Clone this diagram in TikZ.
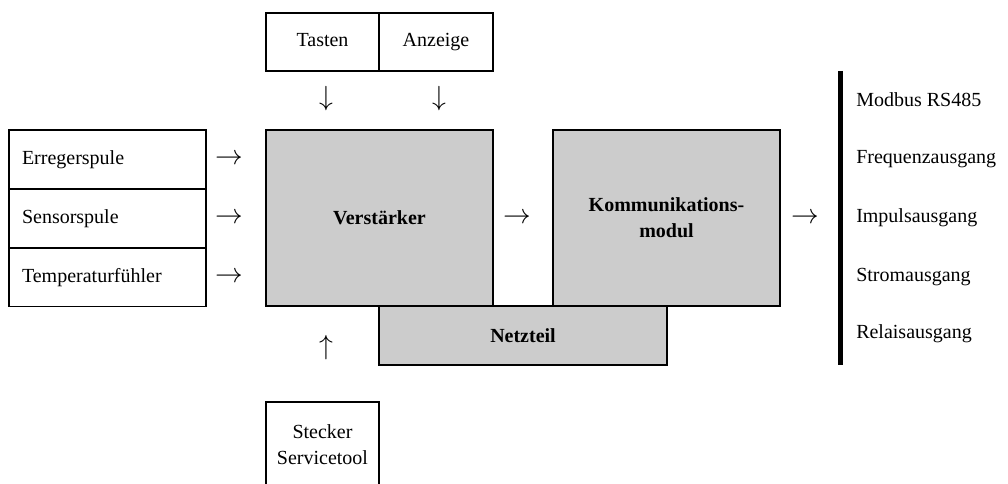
\documentclass[tikz,border=0pt]{standalone}
\usepackage{fontspec}
\setmainfont{Liberation Serif}
\begin{document}
\begin{tikzpicture}[x=0.75pt,y=0.75pt,yscale=-1,xscale=1,
        every node/.style={font=\fontsize{15}{19.5}\selectfont},
        plainbox/.style={draw, line width=0.9pt, inner sep=0pt, align=center},
        inbox/.style={draw, line width=0.9pt, inner sep=0pt, inner xsep=9.75pt, text width=128.25pt, minimum width=147.75pt, minimum height=44.25pt, align=left},
        greybox/.style={draw, line width=0.9pt, fill={rgb, 255:red, 204; green, 204; blue, 204 }, inner sep=0pt, align=center, font=\fontsize{15}{19.5}\selectfont\bfseries},
        sign/.style={inner sep=0.75pt, font=\fontsize{20}{24}\selectfont}]
        \useasboundingbox (0,0) rectangle (1008,484);
        \clip (0,0) rectangle (1008,484);

        %Shape: Rectangle
        \node [plainbox, minimum width=84.75pt, minimum height=43.5pt, text height=10.5pt, text depth=3.5pt] (tasten) at (322.5,42) {Tasten};
        %Shape: Rectangle
        \node [plainbox, minimum width=85.5pt, minimum height=43.5pt, text height=10.5pt, text depth=3.5pt] (anzeige) at (436,42) {Anzeige};

        %Shape: Rectangle
        \node [inbox] (erreger) at (107.5,159.5) {Erregerspule};
        %Shape: Rectangle
        \node [inbox] (sensor) at (107.5,218.5) {Sensorspule};
        %Shape: Rectangle
        \node [inbox, minimum height=43.5pt] (temp) at (107.5,277.5) {Temperaturfühler};

        %Shape: Rectangle
        \node [greybox, minimum width=170.25pt, minimum height=132pt] (verst) at (379.5,218) {Verstärker};
        %Shape: Rectangle
        \node [greybox, minimum width=170.25pt, minimum height=132pt] (komm) at (666.5,218) {Kommunikations-\\modul};
        %Shape: Rectangle
        \node [greybox, minimum width=216pt, minimum height=44.25pt] (netz) at (523,335.5) {Netzteil};

        %Shape: Rectangle
        \node [plainbox, minimum width=84.75pt, minimum height=64.5pt] (stecker) at (322.5,445) {Stecker\\Servicetool};

        % Text Node
        \node [sign] (pfeilT) at (326,99) {$\downarrow$};
        % Text Node
        \node [sign] (pfeilA) at (439,99) {$\downarrow$};
        % Text Node
        \node [sign] (pfeilE) at (229,159.5) {$\rightarrow$};
        % Text Node
        \node [sign] (pfeilS) at (229,218.5) {$\rightarrow$};
        % Text Node
        \node [sign] (pfeilF) at (229,277.5) {$\rightarrow$};
        % Text Node
        \node [sign] (pfeilV) at (517,218) {$\rightarrow$};
        % Text Node
        \node [sign] (pfeilK) at (805,218) {$\rightarrow$};
        % Text Node
        \node [sign] (pfeilST) at (326,348) {$\uparrow$};

        %Straight Lines
        \draw [line width=3.75pt] (840.5,71) -- (840.5,365);

        % Text Node
        \node [anchor=west, inner sep=0.75pt] (modbus) at (855,100) {Modbus RS485};
        % Text Node
        \node [anchor=west, inner sep=0.75pt] (frequenz) at (855,159.5) {Frequenzausgang};
        % Text Node
        \node [anchor=west, inner sep=0.75pt] (impuls) at (855,218) {Impulsausgang};
        % Text Node
        \node [anchor=west, inner sep=0.75pt] (strom) at (855,277) {Stromausgang};
        % Text Node
        \node [anchor=west, inner sep=0.75pt] (relais) at (855,334) {Relaisausgang};
    \end{tikzpicture}
\end{document}
